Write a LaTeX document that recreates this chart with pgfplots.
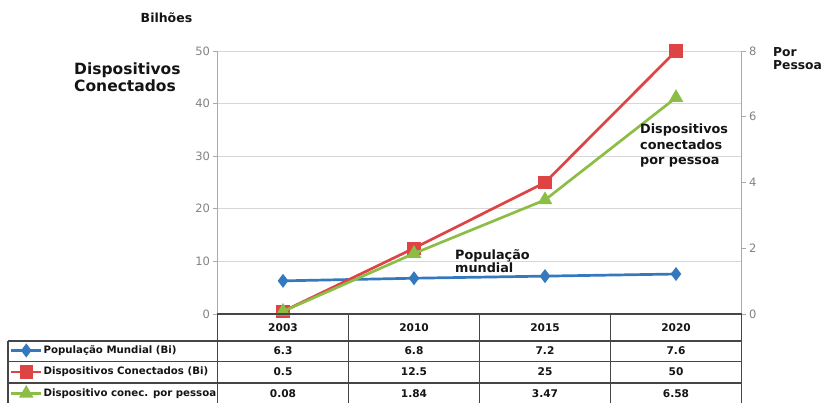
\documentclass[border=0pt]{standalone}
\usepackage{pgfplots}
\pgfplotsset{compat=1.18}
\usepackage{fontspec}
\setmainfont{DejaVu Sans}
\definecolor{cblue}{RGB}{52,120,190}
\definecolor{cred}{RGB}{222,68,68}
\definecolor{cgreen}{RGB}{140,190,70}
\definecolor{tickc}{RGB}{130,130,130}
\definecolor{gridc}{RGB}{215,215,215}
\definecolor{axc}{RGB}{170,170,170}
\definecolor{tline}{RGB}{70,70,70}
\definecolor{txt}{RGB}{20,20,20}
\pgfplotsset{
  common/.style={
    scale only axis, width=524pt, height=263pt,
    xmin=-0.5, xmax=3.5, clip=false,
    axis x line=none,
    xtick=\empty,
    tick align=outside, major tick length=4pt,
    every tick/.style={axc, line width=0.8pt},
    axis line style={axc, line width=1pt, -},
    y tick label style={font=\fontsize{11.5}{11.5}\selectfont, text=tickc},
    /pgf/number format/assume math mode=true,
  },
  my legend/.style={
    legend image code/.code={\draw[mark repeat=2,mark phase=2] plot coordinates {(0pt,0pt) (15pt,0pt) (30pt,0pt)};}
  }
}
\begin{document}
\begin{tikzpicture}
\useasboundingbox (-217.5pt,-89pt) rectangle (604.5pt,314pt);
\begin{axis}[common,
  ymin=0, ymax=50, ytick={0,10,20,30,40,50},
  axis y line*=left,
  ymajorgrids, grid style={gridc, line width=1pt},
  legend style={at={(axis description cs:-0.3965,-0.2205)}, anchor=west,
    draw=none, fill=none, row sep=9pt, inner sep=0pt,
    nodes={inner sep=1pt, text height=8pt, text depth=2.5pt, font=\fontsize{10.2}{10.2}\selectfont\bfseries, text=txt}},
  legend cell align=left, my legend,
]
\addplot[cblue, line width=2.7pt, mark=diamond*, mark size=4.8pt, mark options={solid}] coordinates {(0,6.3) (1,6.8) (2,7.2) (3,7.6)};
\addlegendentry{População Mundial (Bi)}
\addplot[cred, line width=2.7pt, mark=square*, mark size=5.3pt] coordinates {(0,0.5) (1,12.5) (2,25) (3,50)};
\addlegendentry{Dispositivos Conectados (Bi)}
\addlegendimage{cgreen, line width=2.7pt, mark=triangle*, mark size=5.8pt}
\addlegendentry{Dispositivo conec. por pessoa}
\end{axis}
\begin{axis}[common,
  ymin=0, ymax=8, ytick={0,2,4,6,8},
  axis y line*=right,
]
\addplot[cgreen, line width=2.7pt, mark=triangle*, mark size=5.8pt] coordinates {(0,0.08) (1,1.84) (2,3.47) (3,6.58)};
\end{axis}
% table
\begin{scope}[tline, line width=1.3pt]
\draw (0pt,0pt) -- (524pt,0pt);
\draw (-209.5pt,-27pt) -- (524pt,-27pt);
\draw (-209.5pt,-47.5pt) -- (524pt,-47.5pt);
\draw (-209.5pt,-69pt) -- (524pt,-69pt);
\draw (-209.5pt,-90pt) -- (524pt,-90pt);
\draw (-209.5pt,-27pt) -- (-209.5pt,-92pt);
\foreach \x in {0,131,262,393,524} \draw (\x pt,0pt) -- (\x pt,-92pt);
\end{scope}
\begin{scope}[font=\fontsize{10.6}{10.6}\selectfont\bfseries, text=txt]
\foreach \y/\i in {2003/0,2010/1,2015/2,2020/3} \node at (65.5pt+131pt*\i,-13.5pt) {\y};
\foreach \v [count=\i from 0] in {6.3,6.8,7.2,7.6} \node at (65.5pt+131pt*\i,-37pt) {\v};
\foreach \v [count=\i from 0] in {0.5,12.5,25,50} \node at (65.5pt+131pt*\i,-58pt) {\v};
\foreach \v [count=\i from 0] in {0.08,1.84,3.47,6.58} \node at (65.5pt+131pt*\i,-79.5pt) {\v};
\end{scope}
% annotations
\node[font=\fontsize{12.5}{12.5}\selectfont\bfseries, text=txt] at (-51pt,296pt) {Bilhões};
\node[anchor=north west, inner sep=0pt, align=left, font=\fontsize{15.5}{16.5}\selectfont\bfseries, text=txt] at (-143.5pt,251pt) {Dispositivos\\Conectados};
\node[anchor=north west, inner sep=0pt, align=left, font=\fontsize{12.3}{13}\selectfont\bfseries, text=txt] at (555.5pt,267pt) {Por\\Pessoa};
\node[anchor=north west, inner sep=0pt, align=left, font=\fontsize{12.8}{15.5}\selectfont\bfseries, text=txt] at (422.5pt,190pt) {Dispositivos\\conectados\\por pessoa};
\node[anchor=north west, inner sep=0pt, align=left, font=\fontsize{12.8}{13.5}\selectfont\bfseries, text=txt] at (237.5pt,65pt) {População\\mundial};
\end{tikzpicture}
\end{document}
